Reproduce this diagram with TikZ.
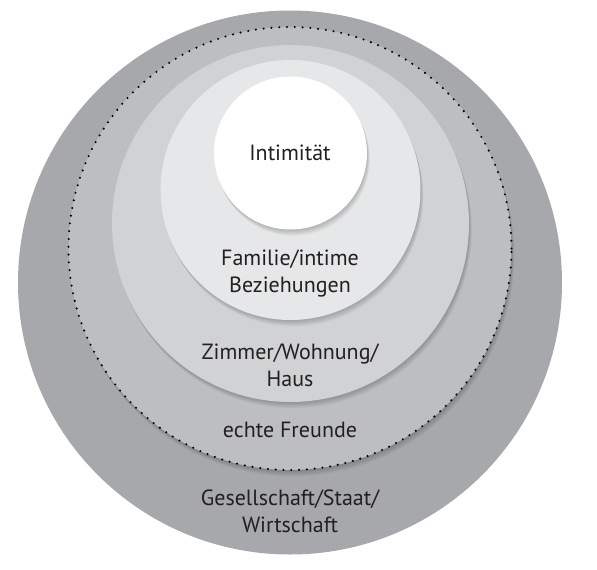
\documentclass[tikz,border=0pt]{standalone}
\usepackage{fontspec}
\setmainfont{PT Sans}
\usepackage{tikz}
\usetikzlibrary{positioning}
\definecolor{ringouter}{RGB}{167, 168, 172}
\definecolor{ringfriends}{RGB}{189, 190, 193}
\definecolor{ringhome}{RGB}{209, 210, 212}
\definecolor{ringfamily}{RGB}{230, 231, 232}
\definecolor{textdark}{RGB}{35, 31, 32}

% soft shadow below a circle
\newcommand{\ringshadow}[3]{%
  \foreach \s in {1,...,7}
    \fill[black, opacity=0.03] (#1+0.4*\s, #2+0.9*\s) circle[radius=#3pt];
}

\begin{document}
\begin{tikzpicture}[x=1pt, y=-1pt,
  ringlabel/.style={font=\fontsize{22}{27}\selectfont, text=textdark, align=center}]

\useasboundingbox (0,0) rectangle (597,570);

% Outer ring
\fill[ringouter] (290,282.5) circle[radius=272pt];

% Friends ring with dotted border
\ringshadow{290}{248.5}{221.5}
\fill[ringfriends] (290,248.5) circle[radius=221.5pt];
\draw[black, line width=2.3pt, line cap=round, dash pattern=on 0pt off 7.8pt]
  (290,248.5) circle[radius=221.5pt];

% Home ring
\ringshadow{290.5}{223.5}{178.5}
\fill[ringhome] (290.5,223.5) circle[radius=178.5pt];

% Family ring
\ringshadow{290.5}{190}{130}
\fill[ringfamily] (290.5,190) circle[radius=130pt];

% Intimacy core
\ringshadow{290.5}{153}{76.5}
\fill[white] (290.5,153) circle[radius=76.5pt];

% Labels
\node[ringlabel] (intim) at (290,153) {Intimität};
\node[ringlabel] (familie) at (290,273) {Familie/intime\\Beziehungen};
\node[ringlabel] (zimmer) at (290,365) {Zimmer/Wohnung/\\Haus};
\node[ringlabel] (freunde) at (290,430) {echte Freunde};
\node[ringlabel] (gesell) at (290,511) {Gesellschaft/Staat/\\Wirtschaft};

\end{tikzpicture}
\end{document}
